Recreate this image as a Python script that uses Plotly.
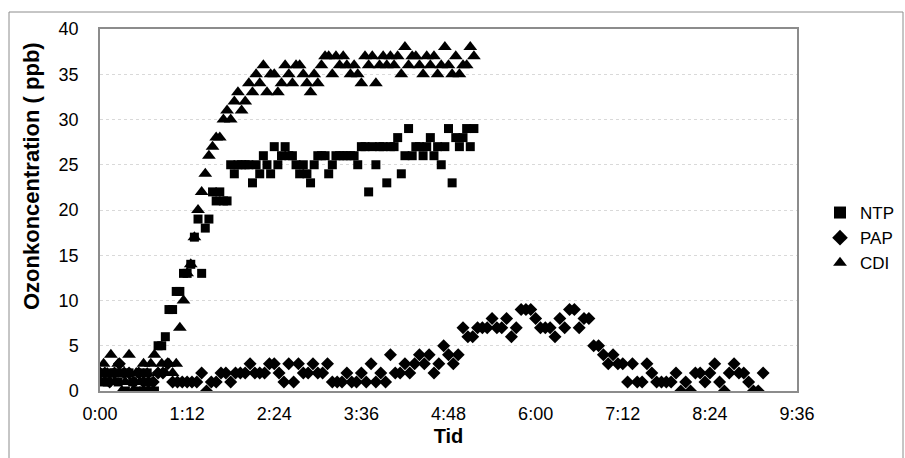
import plotly.graph_objects as go

# Sampling times (minutes after start)
t_ntp_cdi = [0, 3, 6, 9, 12, 15, 18, 21, 24, 27, 30, 33, 36, 39, 42, 45,
             48, 51, 54, 57, 60, 63, 66, 69, 72, 75, 78, 81, 84, 87, 90, 93, 96, 99,
             102, 105, 108, 111, 114, 117, 120, 123, 126, 129, 132, 135, 138, 141, 144, 147,
             150, 153, 156, 159, 162, 165, 168, 171, 174, 177, 180, 183, 186, 189, 192, 195,
             198, 201, 204, 207, 210, 213, 216, 219, 222, 225, 228, 231, 234, 237, 240, 243,
             246, 249, 252, 255, 258, 261, 264, 267, 270, 273, 276, 279, 282, 285, 288, 291,
             294, 297, 300, 303, 306, 309]

t_pap = [0, 4, 8, 12, 16, 20, 24, 28, 32, 36, 40, 44, 48, 52, 56, 60,
         64, 68, 72, 76, 80, 84, 88, 92, 96, 100, 104, 108, 112, 116, 120, 124,
         128, 132, 136, 140, 144, 148, 152, 156, 160, 164, 168, 172, 176, 180, 184, 188,
         192, 196, 200, 204, 208, 212, 216, 220, 224, 228, 232, 236, 240, 244, 248, 252,
         256, 260, 264, 268, 272, 276, 280, 284, 288, 292, 296, 300, 304, 308, 312, 316,
         320, 324, 328, 332, 336, 340, 344, 348, 352, 356, 360, 364, 368, 372, 376, 380,
         384, 388, 392, 396, 400, 404, 408, 412, 416, 420, 424, 428, 432, 436, 440, 444,
         448, 452, 456, 460, 464, 468, 472, 476, 480, 484, 488, 492, 496, 500, 504, 508,
         512, 516, 520, 524, 528, 532, 536, 540, 544, 548]

ntp = [2, 1, 1, 2, 2, 1, 2, 0, 2, 1, 0, 2, 0, 2, 0, 0,
       5, 5, 6, 9, 9, 11,
       11, 13, 13, 14, 17, 19, 13, 18, 19, 22, 21, 22,
       21, 21, 25, 24, 25, 25, 25, 25, 23, 25, 24, 26, 25, 24, 27, 25,
       26, 27, 26, 26, 25, 24, 25, 24, 23, 25, 26, 26, 26, 24, 25, 26,
       26, 26, 26, 26, 26, 25, 27, 27, 22, 27, 25, 27, 27, 23, 27, 27,
       28, 24, 26, 29, 26, 27, 27, 26, 27, 28, 26, 27, 25, 27, 29, 23,
       28, 27, 28, 29, 27, 29]

cdi = [2, 3, 2, 4, 1, 3, 0, 1, 4, 0, 2, 1, 3, 2, 3, 4,
       2, 3, 2, 3, 2, 3,
       7, 10, 13, 14, 17, 20, 22, 24, 26, 27, 28, 28,
       30, 31, 30, 32, 33, 31, 32, 34, 33, 35, 34, 36, 33, 35, 35, 33,
       34, 36, 35, 34, 36, 36, 35, 34, 33, 35, 34, 36, 37, 37, 35, 37,
       36, 37, 36, 35, 36, 35, 34, 37, 36, 37, 34, 36, 37, 36, 37, 36,
       37, 35, 38, 36, 37, 37, 36, 35, 37, 36, 37, 35, 36, 38, 36, 35,
       37, 35, 36, 36, 38, 37]

pap = [2, 2, 1, 2, 3, 2, 2, 1, 2, 1, 1, 1, 2, 2, 3, 1,
       1, 1, 1, 1, 1, 2, 0, 1, 1, 2, 2, 1, 2, 2, 2, 3,
       2, 2, 2, 3, 3, 2, 1, 3, 1, 3, 2, 2, 3, 2, 2, 3,
       1, 1, 1, 2, 1, 1, 2, 1, 3, 1, 2, 1, 4, 2, 2, 3,
       2, 3, 4, 3, 4, 2, 3, 5, 4, 3, 4, 7, 6, 6, 7, 7,
       7, 8, 7, 7, 8, 6, 7, 9, 9, 9, 8, 7, 7, 7, 6, 8,
       7, 9, 9, 7, 8, 8, 5, 5, 4, 3, 4, 3, 3, 1, 3, 1,
       1, 3, 2, 1, 1, 1, 1, 2, 0, 1, 0, 2, 2, 1, 2, 3,
       1, 0, 2, 3, 2, 2, 1, 0, 0, 2]

x_tick_vals = [0, 72, 144, 216, 288, 360, 432, 504, 576]
x_tick_text = ["0:00", "1:12", "2:24", "3:36", "4:48", "6:00", "7:12", "8:24", "9:36"]

FONT = "Liberation Sans, Arial, sans-serif"

fig = go.Figure()
fig.add_trace(go.Scatter(x=t_ntp_cdi, y=ntp, mode="markers", name="NTP",
                         marker=dict(symbol="square", size=9, color="black")))
fig.add_trace(go.Scatter(x=t_pap, y=pap, mode="markers", name="PAP",
                         marker=dict(symbol="diamond", size=10, color="black")))
fig.add_trace(go.Scatter(x=t_ntp_cdi, y=cdi, mode="markers", name="CDI",
                         marker=dict(symbol="triangle-up", size=12, color="black")))

fig.update_layout(
    width=905, height=458,
    margin=dict(l=100, r=108, t=29, b=67, autoexpand=False),
    paper_bgcolor="white", plot_bgcolor="white",
    font=dict(family=FONT, size=18, color="black"),
    showlegend=True,
    legend=dict(x=1.033, y=0.4227, xanchor="left", yanchor="middle",
                font=dict(size=17, color="black"), bgcolor="rgba(0,0,0,0)",
                itemsizing="constant"),
    xaxis=dict(range=[0, 576], tickvals=x_tick_vals, ticktext=x_tick_text,
               showgrid=False, zeroline=False, showline=True, mirror=True,
               linecolor="#8c8c8c", linewidth=1.5, ticks="",
               tickfont=dict(size=18), ticklabelstandoff=6,
               title=dict(text="<b>Tid</b>", font=dict(size=20), standoff=6)),
    yaxis=dict(range=[0, 40], dtick=5, showgrid=True, gridcolor="#d9d9d9",
               griddash="dot", gridwidth=1, zeroline=False, showline=True, mirror=True,
               linecolor="#8c8c8c", linewidth=1.5, ticks="",
               tickfont=dict(size=18), ticklabelstandoff=16),
    annotations=[dict(text="<b>Ozonkoncentration ( ppb)</b>", textangle=-90,
                      xref="paper", yref="paper", x=(31 - 100) / 697, y=(391 - 176) / 362,
                      xanchor="center", yanchor="middle", showarrow=False,
                      font=dict(size=22, color="black"))],
    shapes=[dict(type="rect", xref="paper", yref="paper",
                 x0=(9 - 100) / 697, x1=(903 - 100) / 697,
                 y0=(391 - 470) / 362, y1=(391 - 12) / 362,
                 line=dict(color="#8c8c8c", width=1), layer="below")],
)

fig.write_html("out.html")
